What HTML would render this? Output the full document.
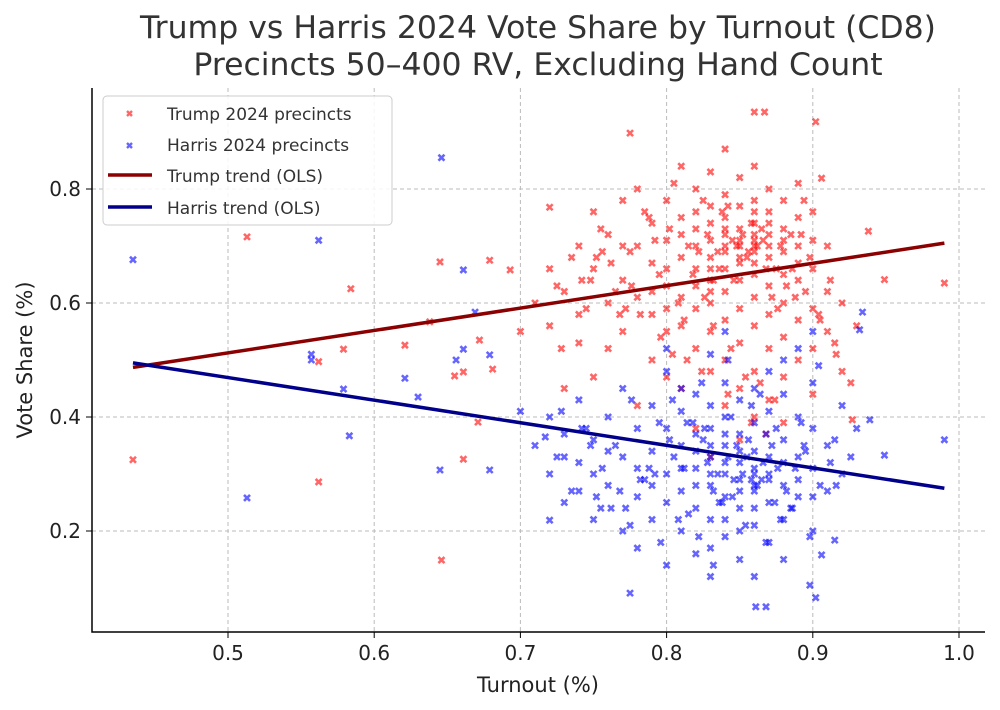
<!DOCTYPE html>
<html><head><meta charset="utf-8"><style>
body{margin:0;background:#fff;}
svg{display:block;font-family:"DejaVu Sans","Liberation Sans",sans-serif;}
</style></head><body>
<svg id="chart" width="1000" height="710" xmlns="http://www.w3.org/2000/svg">
<g fill="#333" font-size="31.5" text-anchor="middle">
<text x="538" y="38">Trump vs Harris 2024 Vote Share by Turnout (CD8)</text>
<text x="538" y="75">Precincts 50–400 RV, Excluding Hand Count</text>
</g>
<g id="grid"></g>
<g id="axes"></g>
<g id="points"></g>
<g id="trends"></g>
<text x="538" y="692" font-size="21" fill="#222" text-anchor="middle">Turnout (%)</text>
<text transform="translate(32,360) rotate(-90)" font-size="21" fill="#222" text-anchor="middle">Vote Share (%)</text>
<g>
<rect x="103" y="96" width="289" height="129" rx="4" fill="#fff" fill-opacity="0.85" stroke="#ccc"/>
<g><path d="M127,111l5,5M132,111l-5,5" stroke="#f00" stroke-opacity="0.6" stroke-width="2.4"/><text x="167" y="120" font-size="17" fill="#333">Trump 2024 precincts</text></g>
<g><path d="M127,143l5,5M132,143l-5,5" stroke="#00f" stroke-opacity="0.6" stroke-width="2.4"/><text x="167" y="151" font-size="17" fill="#333">Harris 2024 precincts</text></g>
<g><line x1="108" y1="175" x2="152" y2="175" stroke="#8b0000" stroke-width="3.5"/><text x="167" y="182" font-size="17" fill="#333">Trump trend (OLS)</text></g>
<g><line x1="108" y1="207" x2="152" y2="207" stroke="#00008b" stroke-width="3.5"/><text x="167" y="214" font-size="17" fill="#333">Harris trend (OLS)</text></g>
</g>
</svg>
<script>
const xTicks=[0.5,0.6,0.7,0.8,0.9,1.0];
const xTickLabels=["0.5","0.6","0.7","0.8","0.9","1.0"];
const yTicks=[0.2,0.4,0.6,0.8];
const yTickLabels=["0.2","0.4","0.6","0.8"];
const trumpX=[0.435,0.513,0.584,0.579,0.562,0.562,0.645,0.646,0.661,0.679,0.672,0.638,0.621,0.661,0.655,0.681,0.671,0.693,0.775,0.720,0.99,0.949,0.938,0.927,0.906,0.86,0.867,0.902,
0.72,0.73,0.74,0.74,0.75,0.75,0.76,0.76,0.77,0.77,0.77,0.78,0.78,0.78,0.79,0.79,0.79,0.79,0.80,0.80,0.80,0.80,0.81,0.81,0.81,0.81,0.81,0.82,0.82,0.82,0.82,0.82,0.82,0.82,0.83,0.83,0.83,0.83,0.83,0.83,0.83,0.83,0.83,0.83,0.84,0.84,0.84,0.84,0.84,0.84,0.84,0.84,0.84,0.84,0.85,0.85,0.85,0.85,0.85,0.85,0.85,0.85,0.85,0.85,0.86,0.86,0.86,0.86,0.86,0.86,0.86,0.86,0.86,0.86,0.86,0.87,0.87,0.87,0.87,0.87,0.87,0.87,0.87,0.87,0.88,0.88,0.88,0.88,0.88,0.88,0.88,0.88,0.89,0.89,0.89,0.89,0.89,0.89,0.90,0.90,0.90,0.90,0.90,0.91,0.91,0.91,0.92,0.92,0.93,0.80,0.81,0.82,0.84,0.85,0.86,0.86,0.87,0.85,0.84,0.83,0.76,0.75,0.78,0.80,0.74,0.73,0.72,0.71,0.70,0.77,0.79,0.81,0.88,0.89,0.90,0.86,0.83,0.82,0.80,
0.725,0.735,0.745,0.755,0.765,0.775,0.785,0.795,0.805,0.815,0.825,0.835,0.845,0.855,0.865,0.875,0.885,0.895,0.905,0.915,0.728,0.748,0.768,0.788,0.808,0.818,0.828,0.838,0.848,0.858,0.868,0.878,0.888,0.898,0.912,0.762,0.782,0.802,0.822,0.832,0.842,0.852,0.862,0.872,0.882,0.892,0.812,0.826,0.836,0.846,0.856,0.866,0.876,0.886,0.796,0.776,0.756,0.832,0.844,0.854,0.864,0.874,0.824,0.814,0.804,0.894,0.904,0.916,0.926,0.742,0.752,0.772,0.792,0.842,0.858,0.868];
const trumpY=[0.325,0.716,0.625,0.519,0.497,0.286,0.672,0.149,0.326,0.675,0.535,0.567,0.526,0.479,0.472,0.484,0.391,0.658,0.898,0.768,0.635,0.641,0.726,0.395,0.819,0.935,0.935,0.918,
0.56,0.62,0.70,0.58,0.76,0.66,0.60,0.72,0.78,0.64,0.55,0.70,0.80,0.61,0.74,0.67,0.58,0.50,0.78,0.71,0.63,0.55,0.84,0.75,0.68,0.61,0.45,0.80,0.73,0.70,0.66,0.59,0.52,0.38,0.83,0.77,0.74,0.71,0.68,0.64,0.60,0.55,0.48,0.33,0.87,0.79,0.75,0.72,0.69,0.66,0.62,0.57,0.50,0.42,0.82,0.77,0.73,0.70,0.67,0.64,0.59,0.53,0.45,0.36,0.84,0.78,0.74,0.71,0.69,0.67,0.65,0.61,0.56,0.48,0.40,0.80,0.76,0.72,0.70,0.68,0.63,0.58,0.52,0.43,0.78,0.73,0.69,0.65,0.60,0.54,0.47,0.39,0.81,0.75,0.70,0.64,0.57,0.50,0.76,0.66,0.59,0.52,0.44,0.70,0.62,0.55,0.60,0.48,0.56,0.66,0.72,0.76,0.70,0.71,0.70,0.72,0.74,0.68,0.73,0.66,0.52,0.47,0.42,0.47,0.53,0.45,0.66,0.60,0.55,0.70,0.62,0.56,0.71,0.67,0.71,0.76,0.62,0.63,0.59,
0.63,0.68,0.59,0.73,0.62,0.69,0.76,0.65,0.81,0.70,0.78,0.69,0.71,0.68,0.73,0.66,0.72,0.62,0.57,0.53,0.52,0.64,0.58,0.75,0.60,0.65,0.72,0.76,0.70,0.74,0.66,0.70,0.61,0.68,0.64,0.67,0.58,0.73,0.69,0.64,0.77,0.72,0.70,0.61,0.63,0.72,0.57,0.61,0.66,0.64,0.69,0.71,0.59,0.66,0.54,0.63,0.69,0.56,0.52,0.47,0.46,0.43,0.48,0.50,0.51,0.78,0.58,0.51,0.46,0.64,0.68,0.59,0.71,0.44,0.39,0.37];
const harrisX=[0.435,0.513,0.562,0.557,0.557,0.579,0.583,0.646,0.645,0.661,0.661,0.656,0.63,0.621,0.679,0.679,0.669,0.99,0.949,0.939,0.906,0.915,0.934,0.932,0.72,0.717,0.775,0.861,0.868,0.902,0.898,
0.72,0.73,0.73,0.74,0.74,0.75,0.75,0.76,0.76,0.77,0.77,0.77,0.78,0.78,0.78,0.79,0.79,0.79,0.80,0.80,0.80,0.80,0.81,0.81,0.81,0.81,0.82,0.82,0.82,0.82,0.82,0.83,0.83,0.83,0.83,0.83,0.83,0.83,0.84,0.84,0.84,0.84,0.84,0.84,0.84,0.85,0.85,0.85,0.85,0.85,0.85,0.86,0.86,0.86,0.86,0.86,0.86,0.86,0.87,0.87,0.87,0.87,0.87,0.87,0.88,0.88,0.88,0.88,0.88,0.89,0.89,0.89,0.89,0.90,0.90,0.90,0.90,0.91,0.91,0.92,0.92,0.93,0.80,0.81,0.82,0.83,0.84,0.85,0.86,0.86,0.87,0.84,0.83,0.85,0.76,0.75,0.74,0.73,0.72,0.71,0.70,0.78,0.79,0.88,0.89,0.90,0.84,0.85,0.83,0.86,0.82,0.81,0.88,0.90,0.80,
0.725,0.735,0.745,0.755,0.765,0.775,0.785,0.795,0.805,0.815,0.825,0.835,0.845,0.855,0.865,0.875,0.885,0.895,0.905,0.915,0.728,0.748,0.768,0.788,0.808,0.818,0.828,0.838,0.848,0.858,0.868,0.878,0.888,0.898,0.912,0.762,0.782,0.802,0.822,0.832,0.842,0.852,0.862,0.872,0.882,0.892,0.812,0.826,0.836,0.846,0.856,0.866,0.876,0.886,0.796,0.776,0.756,0.832,0.844,0.854,0.864,0.874,0.824,0.814,0.804,0.894,0.904,0.916,0.926,0.742,0.752,0.772,0.792,0.842,0.858,0.868];
const harrisY=[0.676,0.258,0.71,0.51,0.50,0.449,0.367,0.855,0.307,0.658,0.519,0.50,0.435,0.468,0.509,0.307,0.584,0.36,0.333,0.395,0.158,0.184,0.584,0.553,0.219,0.365,0.091,0.067,0.067,0.083,0.105,
0.30,0.37,0.25,0.43,0.32,0.22,0.36,0.28,0.40,0.33,0.20,0.45,0.38,0.26,0.17,0.34,0.42,0.22,0.30,0.38,0.48,0.14,0.27,0.35,0.41,0.20,0.24,0.31,0.37,0.44,0.16,0.22,0.28,0.33,0.38,0.42,0.51,0.12,0.19,0.26,0.30,0.35,0.40,0.46,0.55,0.15,0.24,0.29,0.32,0.37,0.43,0.21,0.27,0.30,0.34,0.39,0.45,0.12,0.18,0.25,0.29,0.33,0.41,0.48,0.22,0.28,0.36,0.44,0.15,0.26,0.33,0.40,0.52,0.20,0.31,0.38,0.46,0.27,0.35,0.30,0.42,0.38,0.25,0.31,0.28,0.30,0.32,0.27,0.31,0.28,0.30,0.37,0.35,0.34,0.34,0.30,0.27,0.33,0.40,0.35,0.41,0.31,0.28,0.32,0.29,0.26,0.22,0.20,0.17,0.24,0.34,0.45,0.50,0.55,0.52,
0.33,0.27,0.38,0.24,0.35,0.21,0.29,0.39,0.33,0.23,0.36,0.30,0.26,0.33,0.29,0.38,0.24,0.34,0.28,0.36,0.41,0.35,0.27,0.31,0.22,0.39,0.32,0.25,0.35,0.29,0.37,0.22,0.31,0.19,0.32,0.24,0.29,0.36,0.19,0.27,0.33,0.30,0.28,0.35,0.27,0.39,0.31,0.38,0.25,0.29,0.36,0.32,0.31,0.24,0.18,0.43,0.31,0.14,0.40,0.21,0.44,0.25,0.46,0.39,0.43,0.35,0.49,0.28,0.33,0.38,0.26,0.24,0.30,0.50,0.42,0.18];
const trendX=[0.435,0.99];
const trumpTrend=[0.487,0.705];
const harrisTrend=[0.495,0.275];

const L=92,R=985,T=88,B=632;
const sx=v=>228+(v-0.5)*1462;
const sy=v=>189-(v-0.8)*570;
const NS="http://www.w3.org/2000/svg";
function mk(tag,attrs,parent){const e=document.createElementNS(NS,tag);for(const k in attrs)e.setAttribute(k,attrs[k]);parent.appendChild(e);return e;}
const grid=document.getElementById('grid'),axes=document.getElementById('axes');
xTicks.forEach((v,i)=>{
 const g=mk('line',{x1:sx(v),x2:sx(v),y1:T,y2:B,stroke:'#bbb','stroke-dasharray':'4,3','stroke-width':1},grid);
 
 
 mk('line',{x1:sx(v),x2:sx(v),y1:B,y2:B+6,stroke:'#000'},axes);
 const t=mk('text',{x:sx(v),y:B+28,'font-size':20,fill:'#222','text-anchor':'middle'},axes);
 t.textContent=xTickLabels[i];
 
 
});
yTicks.forEach((v,i)=>{
 const g=mk('line',{x1:L,x2:R,y1:sy(v),y2:sy(v),stroke:'#bbb','stroke-dasharray':'4,3','stroke-width':1},grid);
 
 
 mk('line',{x1:L-6,x2:L,y1:sy(v),y2:sy(v),stroke:'#000'},axes);
 const t=mk('text',{x:L-11,y:sy(v)+7,'font-size':20,fill:'#222','text-anchor':'end'},axes);
 t.textContent=yTickLabels[i];
 
 
});
mk('path',{d:`M${L},${T}V${B}H${R}`,stroke:'#000','stroke-width':1.5,fill:'none'},axes);
const pts=document.getElementById('points');
function series(xs,ys,col,name){
 const g=mk('g',{stroke:col,'stroke-opacity':0.6,'stroke-width':2.6},pts);
 
 
 xs.forEach((x,i)=>{const px=sx(x),py=sy(ys[i]);
  const p=mk('path',{d:`M${px-3},${py-3}l6,6M${px+3},${py-3}l-6,6`},g);
  
  
 });
}
series(trumpX,trumpY,'#f00','trump-points');
series(harrisX,harrisY,'#00f','harris-points');
const tr=document.getElementById('trends');
const l1=mk('line',{x1:sx(trendX[0]),y1:sy(trumpTrend[0]),x2:sx(trendX[1]),y2:sy(trumpTrend[1]),stroke:'#8b0000','stroke-width':3.5},tr);


const l2=mk('line',{x1:sx(trendX[0]),y1:sy(harrisTrend[0]),x2:sx(trendX[1]),y2:sy(harrisTrend[1]),stroke:'#00008b','stroke-width':3.5},tr);


</script>
</body></html>
